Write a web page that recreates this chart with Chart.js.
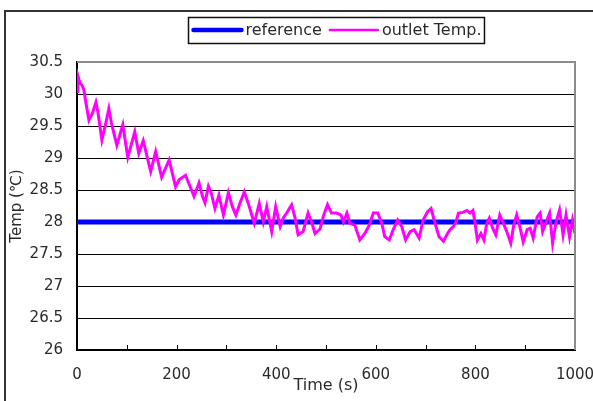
<!DOCTYPE html>
<html>
<head>
<meta charset="utf-8">
<script src="https://cdn.jsdelivr.net/npm/chart.js@4/dist/chart.umd.min.js"></script>
<style>
  html, body { margin: 0; padding: 0; background: #fff; }
</style>
</head>
<body>
<canvas id="tempChart" width="593" height="401"></canvas>
<script>
// values
const timeS = [
    0, 2, 6, 10, 14, 18, 24, 31, 38, 42, 50, 58, 64, 69, 80, 92, 102, 116, 124, 133,
    148, 158, 170, 185, 198, 205, 218, 235, 245, 252, 257, 264, 269, 277, 285, 294, 304, 312, 319, 327,
    336, 344, 356, 366, 374, 381, 391, 399, 408, 414, 421, 431, 438, 444, 454, 464, 471, 478, 488, 495,
    503, 511, 521, 530, 535, 542, 548, 558, 568, 578, 587, 595, 604, 612, 618, 627, 635, 644, 652, 660,
    669, 677, 687, 695, 704, 711, 719, 727, 736, 744, 749, 756, 761, 766, 775, 783, 789, 795, 799, 804,
    811, 817, 823, 828, 835, 841, 849, 855, 863, 871, 877, 883, 890, 896, 904, 910, 916, 924, 930, 935,
    942, 949, 955, 962, 969, 976, 982, 989, 995, 1000
];
const outletTemp = [
    30.04, 30.28, 30.17, 30.14, 30.06, 29.86, 29.59, 29.70, 29.87, 29.72, 29.28, 29.55, 29.77, 29.55, 29.20, 29.52, 29.01, 29.41, 29.07, 29.27,
    28.79, 29.10, 28.70, 28.97, 28.55, 28.66, 28.73, 28.40, 28.61, 28.40, 28.30, 28.56, 28.47, 28.21, 28.42, 28.11, 28.46, 28.24, 28.11, 28.29,
    28.47, 28.29, 27.98, 28.29, 28.00, 28.24, 27.85, 28.24, 27.93, 28.06, 28.14, 28.27, 28.06, 27.80, 27.85, 28.14, 28.00, 27.82, 27.89, 28.10,
    28.27, 28.14, 28.14, 28.11, 28.00, 28.14, 27.98, 27.95, 27.72, 27.82, 27.95, 28.14, 28.14, 27.98, 27.77, 27.72, 27.88, 28.03, 27.93, 27.72,
    27.85, 27.88, 27.75, 28.03, 28.16, 28.21, 27.98, 27.77, 27.70, 27.82, 27.88, 27.93, 28.00, 28.14, 28.15, 28.18, 28.14, 28.18, 28.00, 27.72,
    27.82, 27.72, 27.98, 28.06, 27.90, 27.80, 28.11, 28.00, 27.85, 27.67, 27.95, 28.11, 27.90, 27.69, 27.88, 27.90, 27.75, 28.08, 28.14, 27.85,
    28.00, 28.14, 27.67, 28.00, 28.19, 27.80, 28.11, 27.77, 28.03, 27.82
];
const refTime = [0, 1000];
const refTemp = [28, 28];
const xTicks = [0, 100, 200, 300, 400, 500, 600, 700, 800, 900, 1000];
const xLabels = [0, 200, 400, 600, 800, 1000];

const tickFont = { family: '"DejaVu Sans"', size: 15 };
const textColor = '#2a2a2a';
const legendLineWidth = [4.5, 2.5];

// chart frame, inner tick marks, gray top/right edge and the boxed legend
const framePlugin = {
    id: 'frame',
    afterDraw(chart) {
        const ctx = chart.ctx;
        const a = chart.chartArea;
        const xs = chart.scales.x;
        ctx.save();

        ctx.strokeStyle = '#000';
        ctx.lineWidth = 1;
        xTicks.forEach(v => {
            const px = Math.round(xs.getPixelForValue(v)) + 0.5;
            ctx.beginPath();
            ctx.moveTo(px, a.bottom);
            ctx.lineTo(px, a.bottom - 5);
            ctx.stroke();
        });

        ctx.strokeStyle = '#8c8c8c';
        ctx.lineWidth = 2;
        ctx.beginPath();
        ctx.moveTo(a.left, a.top);
        ctx.lineTo(a.right, a.top);
        ctx.lineTo(a.right, a.bottom);
        ctx.stroke();

        // legend
        ctx.font = '16px "DejaVu Sans"';
        const sets = chart.data.datasets;
        const sampleW = 52, gap = 2, spacing = 6, pad = 3;
        const widths = sets.map(d => sampleW + gap + ctx.measureText(d.label).width);
        const total = widths[0] + spacing + widths[1] + pad * 2;
        let x = Math.round(336 - total / 2) + 0.5;
        const top = 17.5, h = 26, cy = 30;
        ctx.fillStyle = '#fff';
        ctx.fillRect(x, top, total, h);
        ctx.strokeStyle = '#111';
        ctx.lineWidth = 1.5;
        ctx.strokeRect(x, top, total, h);
        x += pad;
        sets.forEach((d, i) => {
            ctx.strokeStyle = d.borderColor;
            ctx.lineWidth = legendLineWidth[i];
            ctx.lineCap = 'round';
            ctx.beginPath();
            ctx.moveTo(x + 2, cy);
            ctx.lineTo(x + sampleW - 2, cy);
            ctx.stroke();
            ctx.fillStyle = textColor;
            ctx.textBaseline = 'middle';
            ctx.textAlign = 'left';
            ctx.fillText(d.label, x + sampleW + gap, cy + 1);
            x += widths[i] + spacing;
        });

        ctx.strokeStyle = '#333';
        ctx.lineWidth = 2;
        ctx.strokeRect(5, 11, 700, 500);
        ctx.restore();
    }
};

const ctx = document.getElementById('tempChart').getContext('2d');
new Chart(ctx, {
    type: 'line',
    data: {
        datasets: [
            {
                label: 'reference',
                data: refTime.map((t, i) => ({ x: t, y: refTemp[i] })),
                borderColor: '#0000ff',
                backgroundColor: '#0000ff',
                borderWidth: 5,
                pointRadius: 0,
                order: 1
            },
            {
                label: 'outlet Temp.',
                data: timeS.map((t, i) => ({ x: t, y: outletTemp[i] })),
                borderColor: '#ff00ff',
                backgroundColor: '#ff00ff',
                borderWidth: 3,
                pointRadius: 0,
                tension: 0,
                order: 0
            }
        ]
    },
    options: {
        responsive: false,
        animation: false,
        layout: { padding: { left: 0, right: 18, top: 62, bottom: 0 } },
        plugins: {
            legend: { display: false },
            tooltip: { enabled: false }
        },
        scales: {
            x: {
                type: 'linear',
                min: 0,
                max: 1000,
                grid: { display: true, drawOnChartArea: false, drawTicks: true, tickLength: 14, tickColor: 'rgba(0,0,0,0)' },
                border: { display: true, color: '#000', width: 2 },
                ticks: {
                    stepSize: 200,
                    autoSkip: false,
                    maxRotation: 0,
                    padding: 2,
                    font: tickFont,
                    color: textColor,
                    callback: v => xLabels.includes(v) ? String(v) : ''
                },
                title: {
                    display: true,
                    text: 'Time (s)',
                    font: { family: '"DejaVu Sans"', size: 16 },
                    color: textColor,
                    padding: { top: 0, bottom: 6 }
                },
                afterFit: s => {
                    s.height = 51;
                    s.paddingRight = 0;
                    s.paddingLeft = 0;
                }
            },
            y: {
                min: 26,
                max: 30.5,
                grid: { color: '#000', lineWidth: 1, drawTicks: false },
                border: { color: '#000', width: 2 },
                ticks: {
                    stepSize: 0.5,
                    padding: 14,
                    font: tickFont,
                    color: textColor,
                    callback: v => String(v)
                },
                title: {
                    display: true,
                    text: 'Temp (℃)',
                    font: { family: '"DejaVu Sans"', size: 15 },
                    color: textColor,
                    padding: { top: 8, bottom: 0 }
                },
                afterFit: s => { s.width = 77; }
            }
        }
    },
    plugins: [framePlugin]
});
</script>
</body>
</html>
